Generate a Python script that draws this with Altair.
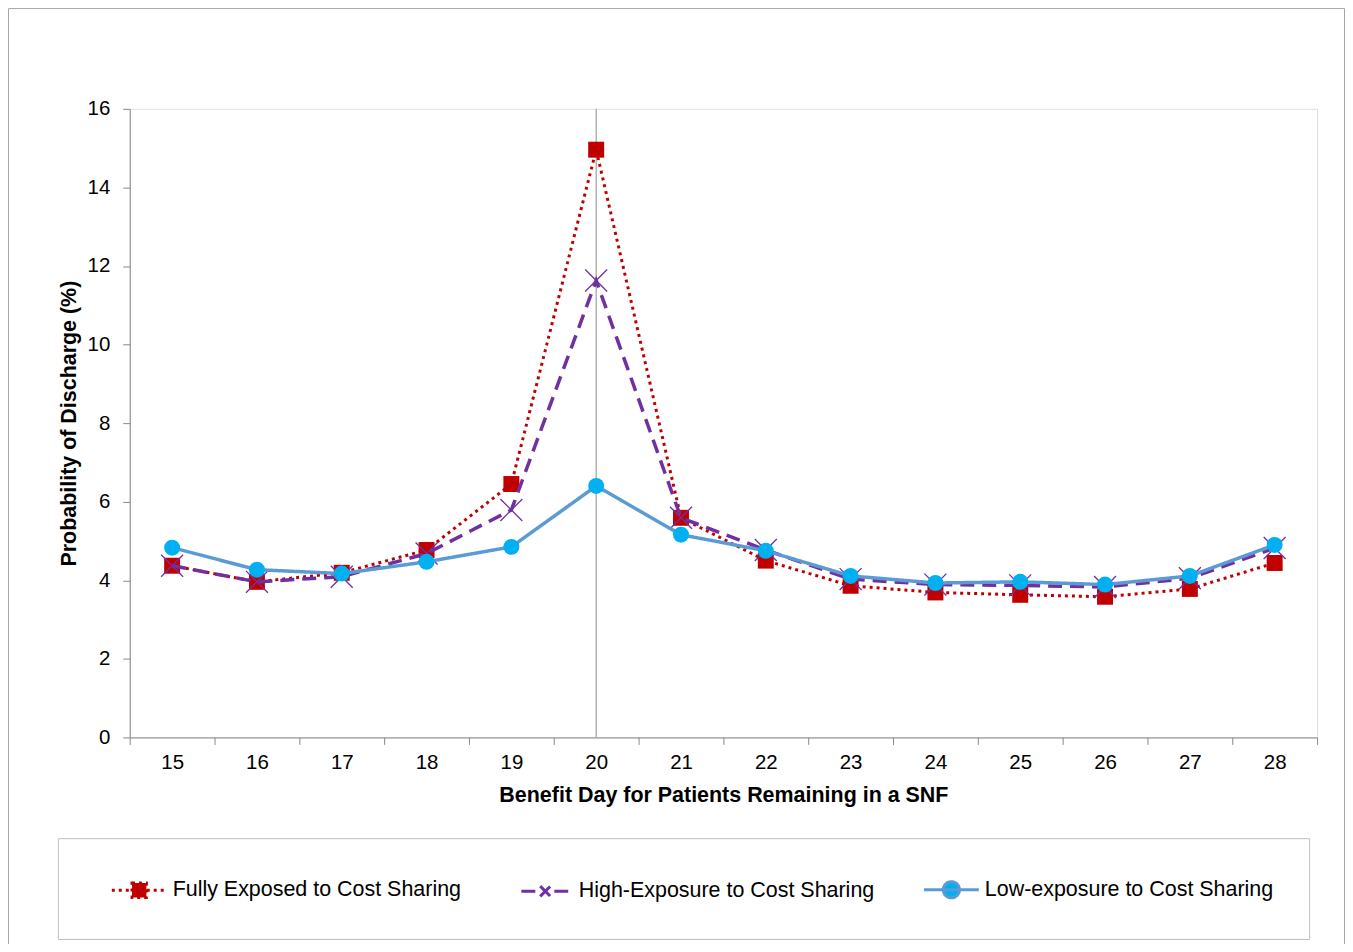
import altair as alt
import pandas as pd

# ---------------- data ----------------
days = [15, 16, 17, 18, 19, 20, 21, 22, 23, 24, 25, 26, 27, 28]
series_names = [
    "Fully Exposed to Cost Sharing",
    "High-Exposure to Cost Sharing",
    "Low-exposure to Cost Sharing",
]
fully_exposed = [4.37, 3.96, 4.19, 4.77, 6.45, 14.96, 5.59, 4.50, 3.86, 3.69, 3.63, 3.58, 3.78, 4.44]
high_exposure = [4.37, 3.96, 4.09, 4.68, 5.79, 11.63, 5.59, 4.77, 4.03, 3.89, 3.87, 3.83, 4.05, 4.82]
low_exposure = [4.83, 4.27, 4.17, 4.47, 4.85, 6.40, 5.16, 4.75, 4.11, 3.93, 3.96, 3.89, 4.11, 4.90]
threshold_day = [20]
y_ticks = [0, 2, 4, 6, 8, 10, 12, 14, 16]

# ---------------- styles ----------------
line_colors = ["#C00000", "#7030A0", "#5B9BD5"]
marker_colors = ["#C00000", "#7030A0", "#00B0F0"]
dashes = [[3, 4], [14, 8], [1, 0]]
# legend glyphs: unit = 15 px (symbolSize 900); line spans 55 px
legend_shapes = [
    "M-1.83,0H1.83M-0.48,-0.48H0.48V0.48H-0.48Z",
    "M-1.6,0H-0.6M0.6,0H1.6M-0.34,-0.34L0.34,0.34M-0.34,0.34L0.34,-0.34",
    "M-1.83,0H1.83M0.54,0A0.54,0.54,0,1,1,-0.54,0A0.54,0.54,0,1,1,0.54,0Z",
]
FONT = "Liberation Sans"
GRAY = "#898989"

rows = []
for name, vals in zip(series_names, [fully_exposed, high_exposure, low_exposure]):
    for d, v in zip(days, vals):
        rows.append({"day": d, "value": v, "series": name})
df = pd.DataFrame(rows)

rule_df = pd.DataFrame({"day": threshold_day, "value": [y_ticks[0]], "value2": [y_ticks[-1]]})

W, H = 1190, 630

x_enc = alt.X(
    "day:O",
    scale=alt.Scale(type="band", paddingInner=0, paddingOuter=0, domain=days),
    bandPosition=0.5,
    title="Benefit Day for Patients Remaining in a SNF",
    axis=alt.Axis(
        labelAngle=0, tickBand="extent", tickSize=7, tickColor=GRAY, domainColor=GRAY,
        labelFont=FONT, labelFontSize=20.5, labelColor="#000", labelPadding=8,
        titleFont=FONT, titleFontSize=21.5, titleFontWeight="bold", titleColor="#000",
        titlePadding=12, grid=False,
    ),
)
y_enc = alt.Y(
    "value:Q",
    scale=alt.Scale(domain=[y_ticks[0], y_ticks[-1]], nice=False),
    title="Probability of Discharge (%)",
    axis=alt.Axis(
        values=y_ticks, tickSize=7, tickColor=GRAY, domainColor=GRAY,
        labelFont=FONT, labelFontSize=20.5, labelColor="#000", labelPadding=13,
        titleFont=FONT, titleFontSize=21.5, titleFontWeight="bold", titleColor="#000",
        titlePadding=7, grid=False,
    ),
)

legend_def = alt.Legend(
    title=None, orient="none", legendX=-72, legendY=731, direction="horizontal",
    columns=3, gridAlign="all", symbolSize=900, symbolStrokeWidth=3, symbolOpacity=1,
    symbolOffset=30, labelOffset=17,
    labelFont=FONT, labelFontSize=21.5, labelColor="#000", labelLimit=600,
    columnPadding=30, padding=35, strokeColor="#BFBFBF",
    fillColor="white", cornerRadius=0,
)

stroke_scale = alt.Scale(domain=series_names, range=line_colors)
dash_scale = alt.Scale(domain=series_names, range=dashes)
fill_scale = alt.Scale(domain=series_names, range=marker_colors)
shape_scale = alt.Scale(domain=series_names, range=legend_shapes)

# legend carrier layer (no visible data)
legend_layer = alt.Chart(df).transform_filter("datum.value < -100").mark_point(
    filled=True, opacity=1, size=900, strokeWidth=3
).encode(
    x=x_enc, y=y_enc,
    fill=alt.Fill("series:N", scale=fill_scale, legend=legend_def),
    shape=alt.Shape("series:N", scale=shape_scale, legend=legend_def),
    stroke=alt.Stroke("series:N", scale=stroke_scale, legend=legend_def),
    strokeDash=alt.StrokeDash("series:N", scale=dash_scale, legend=legend_def),
)

frame = alt.Chart(pd.DataFrame({"k": [0]})).mark_rect(
    fill="transparent", stroke="#A6A6A6", strokeWidth=1
).encode(
    x=alt.value(-121.5), x2=alt.value(1217.5), y=alt.value(-100.5), y2=alt.value(900)
)

rule = alt.Chart(rule_df).mark_rule(color="#A0A0A0", strokeWidth=1.2).encode(
    x=x_enc, y=y_enc, y2="value2"
)

marker_specs = [
    dict(shape="square", filled=True, size=256, color=marker_colors[0]),
    dict(shape="M-1,-1L1,1M-1,1L1,-1", filled=False, size=484, color=marker_colors[1], strokeWidth=1.3),
    dict(shape="circle", filled=True, size=256, color=marker_colors[2]),
]
line_widths = [3, 3.5, 3.5]

layers = [frame, legend_layer, rule]
for i, name in enumerate(series_names):
    ln = alt.Chart(df).transform_filter(alt.datum.series == name).mark_line(
        strokeWidth=line_widths[i]
    ).encode(
        x=x_enc, y=y_enc,
        stroke=alt.Stroke("series:N", scale=stroke_scale, legend=legend_def),
        strokeDash=alt.StrokeDash("series:N", scale=dash_scale, legend=legend_def),
    )
    pt = alt.Chart(df).transform_filter(alt.datum.series == name).mark_point(
        opacity=1, **marker_specs[i]
    ).encode(x=x_enc, y=y_enc)
    layers += [ln, pt]

chart = alt.layer(*layers).properties(
    width=W, height=H,
    autosize=alt.AutoSizeParams(type="none"),
    padding={"left": 122, "top": 100, "right": 28, "bottom": 206},
).configure_view(stroke=GRAY, strokeWidth=1).configure(background="white")

chart.save("out.html", embed_options={"renderer": "svg", "actions": False})
